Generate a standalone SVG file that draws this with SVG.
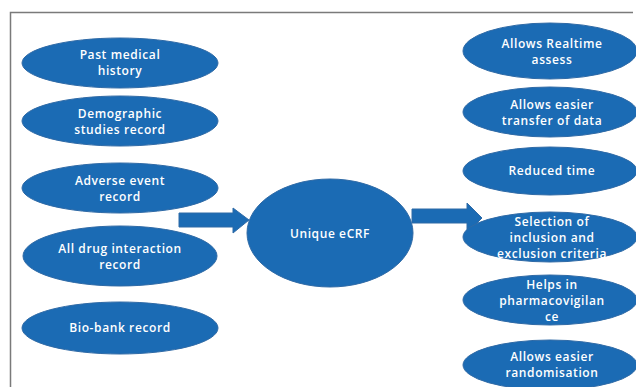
<svg xmlns="http://www.w3.org/2000/svg" width="636" height="387" viewBox="0 0 636 387">
<style>
.n{fill:#1b6bb4;stroke:#2f6aa6;stroke-width:1}
.t{fill:#ffffff;font-family:"Open Sans","Liberation Sans",sans-serif;font-size:12px;font-weight:600;letter-spacing:0.6px;text-anchor:middle;dominant-baseline:central}
.a{fill:#1b6bb4;stroke:#2f6aa6;stroke-width:1}
</style>
<rect width="636" height="387" fill="#ffffff"/>
<path d="M10.5 387 V12.5 H633" fill="none" stroke="#7a7a7a" stroke-width="1.5"/>
<g id="connectors">
<path class="a" d="M179 213 H233 V208 L249 220 L233 233 V227 H179 Z"/>
<path class="a" d="M412 209 H467 V203 L482 218 L467 233 V223 H412 Z"/>
</g>
<g id="past"><ellipse class="n" cx="120" cy="63" rx="98" ry="25"/><text class="t" x="120" y="54">Past medical</text><text class="t" x="120" y="70">history</text></g>
<g id="demo"><ellipse class="n" cx="120" cy="121" rx="98" ry="25"/><text class="t" x="120" y="113">Demographic</text><text class="t" x="120" y="129">studies record</text></g>
<g id="adverse"><ellipse class="n" cx="120" cy="188" rx="98" ry="25"/><text class="t" x="120" y="180">Adverse event</text><text class="t" x="120" y="196">record</text></g>
<g id="drug"><ellipse class="n" cx="120" cy="256" rx="97" ry="30"/><text class="t" x="120" y="248">All drug interaction</text><text class="t" x="120" y="264">record</text></g>
<g id="biobank"><ellipse class="n" cx="120" cy="328" rx="98" ry="26"/><text class="t" x="120" y="327">Bio-bank record</text></g>
<g id="ecrf"><ellipse class="n" cx="330" cy="233" rx="83" ry="54"/><text class="t" x="330" y="233">Unique eCRF</text></g>
<g id="realtime"><ellipse class="n" cx="550" cy="51" rx="87" ry="28"/><text class="t" x="552" y="43">Allows Realtime</text><text class="t" x="552" y="59">assess</text></g>
<g id="transfer"><ellipse class="n" cx="550" cy="112" rx="87" ry="25"/><text class="t" x="552" y="104">Allows easier</text><text class="t" x="552" y="120">transfer of data</text></g>
<g id="reduced"><ellipse class="n" cx="550" cy="171" rx="87" ry="24"/><text class="t" x="552" y="170">Reduced time</text></g>
<g id="selection"><ellipse class="n" cx="550" cy="237" rx="87" ry="25"/><text class="t" x="552" y="221">Selection of</text><text class="t" x="552" y="237">inclusion and</text><text class="t" x="552" y="253">exclusion criteria</text></g>
<g id="pharma"><ellipse class="n" cx="550" cy="300" rx="87" ry="25"/><text class="t" x="552" y="284">Helps in</text><text class="t" x="552" y="300">pharmacovigilan</text><text class="t" x="552" y="316">ce</text></g>
<g id="random"><ellipse class="n" cx="550" cy="365" rx="87" ry="25"/><text class="t" x="552" y="356">Allows easier</text><text class="t" x="552" y="372">randomisation</text></g>
</svg>
